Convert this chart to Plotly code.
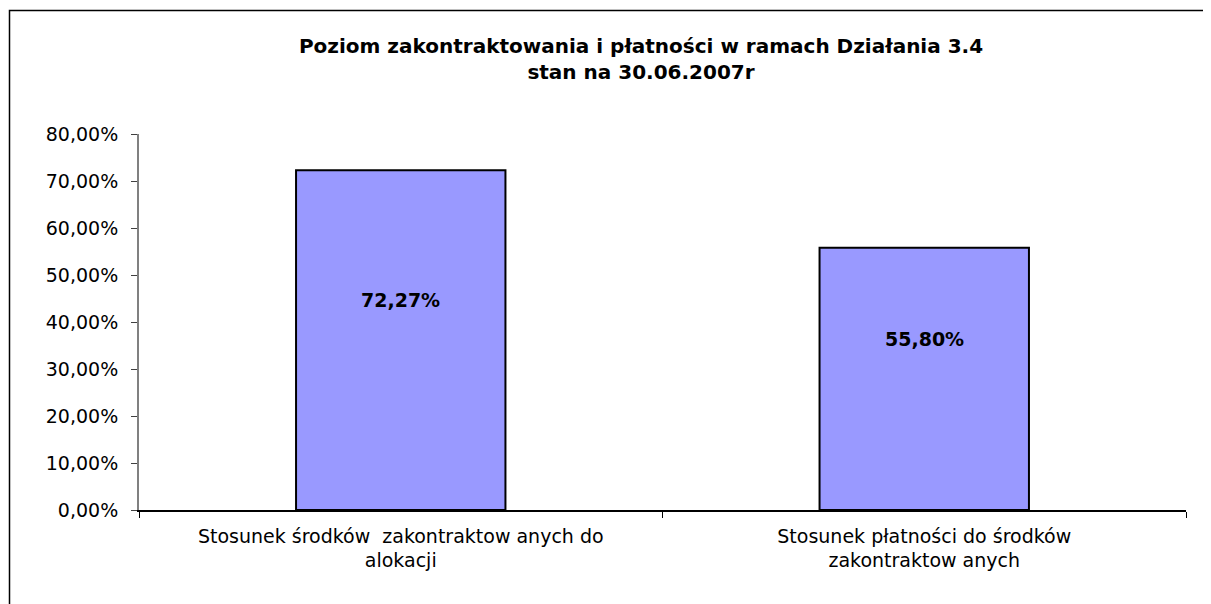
import plotly.graph_objects as go

categories = ["Stosunek środków  zakontraktow anych do<br>alokacji",
              "Stosunek płatności do środków<br>zakontraktow anych"]
values = [0.7227, 0.5580]
labels = ["72,27%", "55,80%"]
yticks = [0, 0.1, 0.2, 0.3, 0.4, 0.5, 0.6, 0.7, 0.8]

OFF = 8  # browser default body margin
W, H = 1211 - OFF, 604 - OFF
L, R, T, B = 139 - OFF, 1186 - OFF, 134 - OFF, 510 - OFF

fig = go.Figure()
fig.add_trace(go.Bar(
    x=categories, y=values, width=0.4,
    marker=dict(color="#9999FF", line=dict(color="#000000", width=2)),
    hoverinfo="skip", showlegend=False,
))
for c, v, t in zip(categories, values, labels):
    fig.add_annotation(x=c, y=v / 2, text=f"<b>{t}</b>", showarrow=False,
                       yshift=40, font=dict(size=19, color="black", family="DejaVu Sans"))

pw, ph = R - L, B - T
def px(x): return (x - OFF - L) / pw
def py(y): return (B - (y - OFF)) / ph
fig.add_shape(type="rect", xref="paper", yref="paper",
              x0=px(9.5), x1=px(1230), y0=py(10.5), y1=py(630),
              line=dict(color="black", width=1.5), fillcolor="rgba(0,0,0,0)", layer="below")

fig.update_layout(
    width=W, height=H,
    margin=dict(l=L, r=W - R, t=T, b=H - B),
    paper_bgcolor="white", plot_bgcolor="white",
    separators=",.",
    font=dict(family="DejaVu Sans", size=19, color="black"),
    title=dict(text="<b>Poziom zakontraktowania i płatności w ramach Działania 3.4<br>stan na 30.06.2007r</b>",
               x=(641 - OFF) / W, xanchor="center", y=1 - (53 - OFF) / H, yanchor="middle",
               font=dict(size=20, family="DejaVu Sans", color="black")),
)
fig.update_yaxes(range=[0, 0.8], tickvals=yticks, tickformat=".2%",
                 showline=True, linecolor="#808080", linewidth=2,
                 ticks="outside", ticklen=6, tickcolor="#404040", tickwidth=1,
                 showgrid=False, zeroline=False, ticklabelstandoff=9,
                 tickfont=dict(size=19))
fig.update_xaxes(showline=True, linecolor="black", linewidth=1.5,
                 ticks="outside", ticklen=6, tickcolor="black", tickson="boundaries",
                 showgrid=False, ticklabelstandoff=8, tickfont=dict(size=19))

fig.write_html("out.html")
